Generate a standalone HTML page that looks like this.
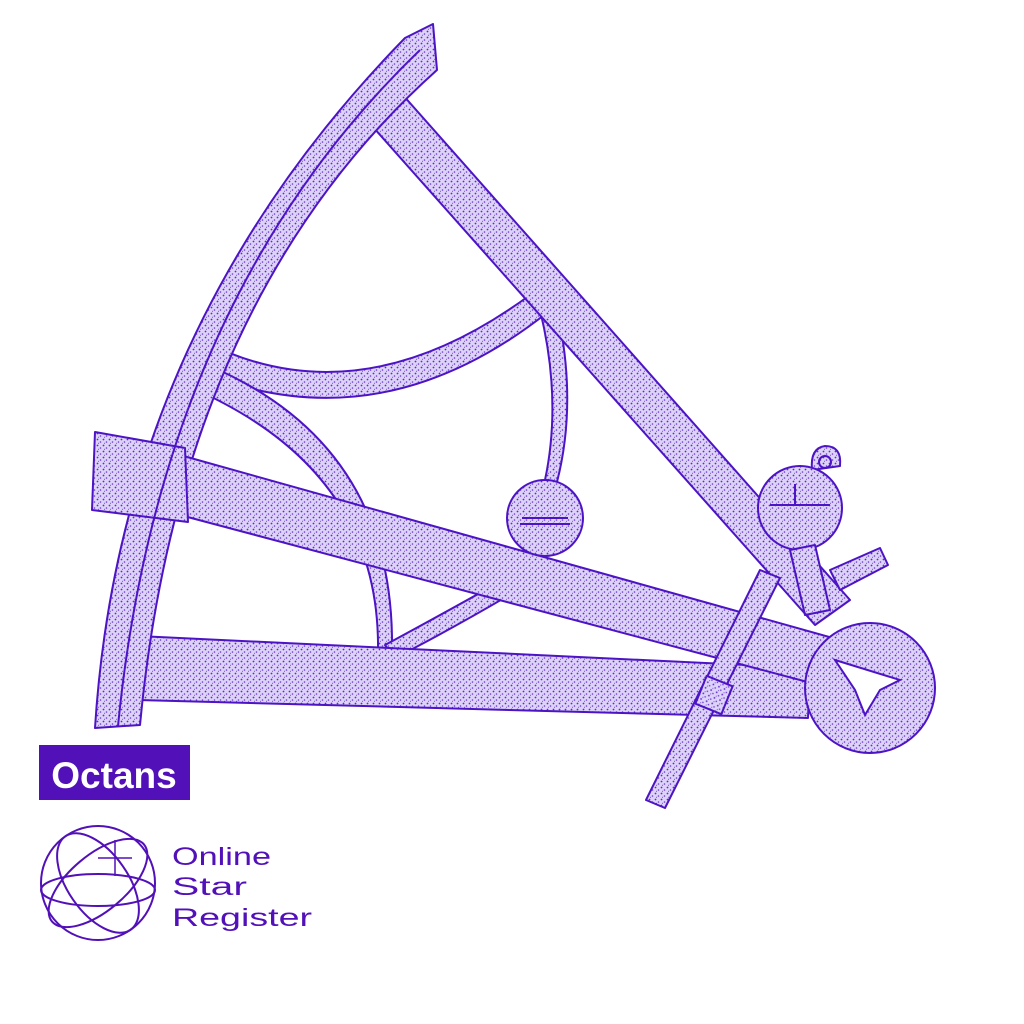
<!DOCTYPE html>
<html><head><meta charset="utf-8"><style>
html,body{margin:0;padding:0;background:#fff;width:1024px;height:1024px;overflow:hidden}
svg{display:block}
</style></head><body>
<svg width="1024" height="1024" viewBox="0 0 1024 1024" xmlns="http://www.w3.org/2000/svg">
<defs>
<pattern id="st" width="6" height="6" patternUnits="userSpaceOnUse">
<rect width="6" height="6" fill="#ddd2f8"/>
<circle cx="1.5" cy="1.5" r="0.9" fill="#5f28d2"/>
<circle cx="4.5" cy="4" r="0.8" fill="#6a35d6"/>
<circle cx="2.5" cy="5.3" r="0.5" fill="#5f28d2"/>
</pattern>
</defs>
<g fill="url(#st)" stroke="#4c14c4" stroke-width="2" stroke-linejoin="round">
<path d="M205 342 Q360 420 530 295 L548 312 Q380 445 200 372 Z"/>
<path d="M200 362 Q395 440 392 650 L378 650 Q380 470 192 388 Z"/>
<path d="M540 310 Q562 400 545 480 L557 482 Q578 400 556 305 Z"/>
<path d="M385 645 Q450 610 512 575 L518 590 Q450 630 395 658 Z"/>
<path d="M365 118 L402 94 L850 600 L815 625 Z"/>
<path d="M138 636 L810 668 L808 718 L138 700 Z"/>
<path d="M405 38 L433 24 L437 70 Q180 300 140 725 L95 728 Q120 330 405 38 Z"/>
<path d="M180 455 L840 640 L830 688 L180 515 Z"/>
<path d="M95 432 L185 448 L188 522 L92 510 Z"/>
<circle cx="545" cy="518" r="38"/>
<path d="M812 470 Q810 448 825 446 Q842 446 840 466 Z"/>
<circle cx="800" cy="508" r="42"/>
<path d="M790 550 L815 545 L830 610 L805 615 Z"/>
<path d="M830 570 L880 548 L888 565 L840 590 Z"/>
<path d="M760 570 L780 578 L665 808 L646 800 Z"/>
<rect x="700" y="680" width="28" height="30" transform="rotate(22 714 695)"/>
<circle cx="870" cy="688" r="65"/>
</g>
<g fill="none" stroke="#4c14c4" stroke-width="2">
<line x1="522" y1="518" x2="568" y2="518"/>
<line x1="520" y1="524" x2="570" y2="524"/>
<line x1="770" y1="505" x2="830" y2="505"/>
<line x1="795" y1="484" x2="795" y2="505"/>
<circle cx="825" cy="462" r="6"/>
<path d="M835 660 L900 680 L880 690 L865 715 L855 690 Z" fill="#fff"/>
<path d="M420 50 Q160 300 118 726"/>
</g>
<rect x="39" y="745" width="151" height="55" fill="#5210b8"/>
<text x="114" y="788" text-anchor="middle" font-family="Liberation Sans, sans-serif" font-weight="bold" font-size="37" fill="#fff">Octans</text>
<g fill="none" stroke="#5210b8" stroke-width="2">
<circle cx="98" cy="883" r="57"/>
<ellipse cx="98" cy="890" rx="57" ry="16"/>
<ellipse cx="98" cy="883" rx="60" ry="28" transform="rotate(-40 98 883)"/>
<ellipse cx="98" cy="883" rx="57" ry="30" transform="rotate(55 98 883)"/>
<path d="M115 840 L115 876 M98 858 L132 858" stroke-width="1.5"/>
</g>
<g font-family="Liberation Sans, sans-serif" font-size="25" fill="#5210b8">
<text x="172" y="865" textLength="99" lengthAdjust="spacingAndGlyphs">Online</text>
<text x="172" y="895" textLength="75" lengthAdjust="spacingAndGlyphs">Star</text>
<text x="172" y="926" textLength="140" lengthAdjust="spacingAndGlyphs">Register</text>
</g>
</svg>
</body></html>
